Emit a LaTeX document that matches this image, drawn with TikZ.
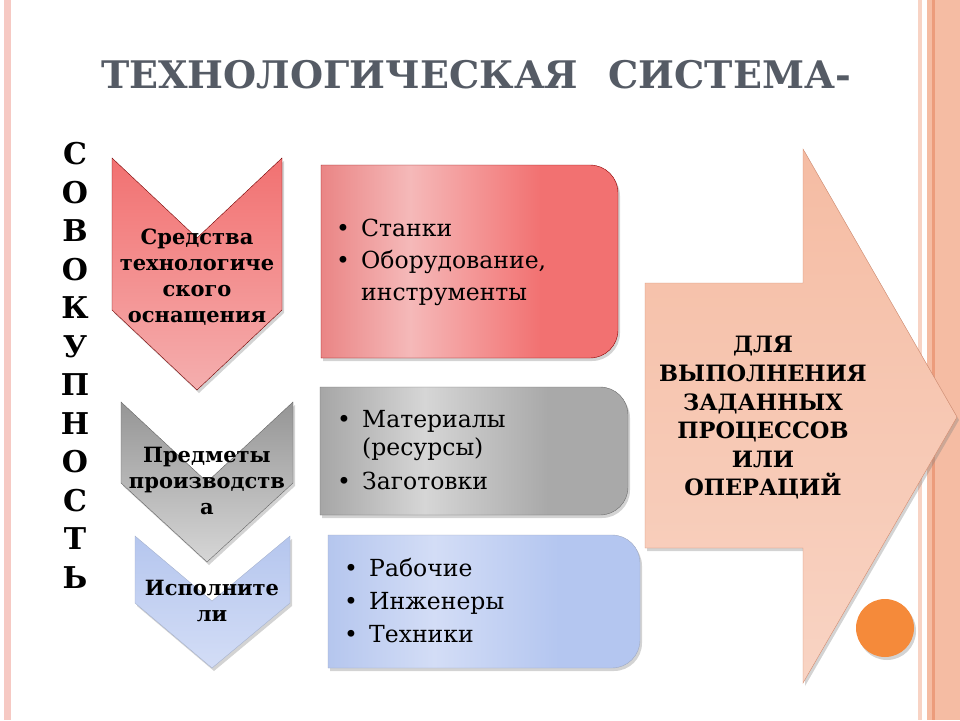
\documentclass[tikz,border=0pt]{standalone}
\usepackage{fontspec}
\setmainfont{DejaVu Serif}
\usepackage{tikz}
\usetikzlibrary{calc,shadows,matrix,positioning}

\definecolor{titlegray}{HTML}{555B65}
\definecolor{framepink}{HTML}{F6C9C3}
\definecolor{peachlt}{HTML}{F8D3C4}
\definecolor{peach}{HTML}{F5BCA3}
\definecolor{peachdk}{HTML}{EC9C7C}
\definecolor{redL}{HTML}{EA8585}
\definecolor{redM}{HTML}{F5B9B9}
\definecolor{redR}{HTML}{F27171}
\definecolor{grayL}{HTML}{A6A6A6}
\definecolor{grayM}{HTML}{D6D6D6}
\definecolor{grayR}{HTML}{A9A9A9}
\definecolor{blueL}{HTML}{B5C6EE}
\definecolor{blueM}{HTML}{D3DDF6}
\definecolor{blueR}{HTML}{B4C6F0}
\definecolor{dotorange}{HTML}{F58A3A}

\pgfdeclarehorizontalshading{redband}{100bp}{color(0bp)=(redL); color(25bp)=(redL);
  color(40bp)=(redM); color(62bp)=(redR); color(100bp)=(redR)}
\pgfdeclarehorizontalshading{grayband}{100bp}{color(0bp)=(grayL); color(25bp)=(grayL);
  color(42bp)=(grayM); color(62bp)=(grayR); color(100bp)=(grayR)}
\pgfdeclarehorizontalshading{blueband}{100bp}{color(0bp)=(blueL); color(25bp)=(blueL);
  color(42bp)=(blueM); color(62bp)=(blueR); color(100bp)=(blueR)}

\newcommand\itm{\makebox[25pt][l]{\textbullet}}
\newcommand\nobul{\makebox[25pt][l]{}}

\begin{document}
\begin{tikzpicture}[x=1pt,y=-1pt,
	shade/.style={drop shadow={shadow xshift=2pt,shadow yshift=-3pt,opacity=.35}},
	label/.style={font=\bfseries\fontsize{21}{26}\selectfont, align=center, inner sep=0pt},
	items/.style={font=\fontsize{23.5}{32}\selectfont, align=left, anchor=west, inner sep=0pt}]

\useasboundingbox (0,0) rectangle (960,720);

% frame
\fill[framepink] (4,0) rectangle (11,720);
\fill[peachlt] (918,0) rectangle (922,720);
\fill[peach] (927,0) rectangle (960,720);
\fill[peachdk] (932,0) rectangle (935,720);

\node[font=\bfseries\fontsize{38}{38}\selectfont, text=titlegray] (title) at (476,75)
	{ТЕХНОЛОГИЧЕСКАЯ\hspace{30pt}СИСТЕМА-};

\matrix(word) [matrix of nodes, row sep=15.5pt,
	nodes={font=\bfseries\fontsize{30}{30}\selectfont, inner sep=0pt,
	text height=23pt, text depth=0pt}] at (75,365)
	{
	С \\ О \\ В \\ О \\ К \\ У \\ П \\ Н \\ О \\ С \\ Т \\ Ь \\
	}; %end matrix

% chevrons
\draw[shade, draw=red!45!black, top color=redR, bottom color=redM!85!redR]
	(112,158) -- (197,238) -- (282,158) -- (282,310) -- (197,390) -- (112,310) -- cycle;
\draw[shade, draw=gray!80!black, top color=grayL!90!black, bottom color=grayM]
	(121,402) -- (207,482) -- (293,402) -- (293,483) -- (207,562) -- (121,483) -- cycle;
\draw[shade, draw=blueL!70!gray, top color=blueL, bottom color=blueM]
	(135,536) -- (212,601) -- (290,536) -- (290,603) -- (212,668) -- (135,603) -- cycle;

\node[label] (means) at (197,277) {Средства\\технологиче\\ского\\оснащения};
\node[label] (objects) at (207,481) {Предметы\\производств\\а};
\node[label] (staff) at (212,601) {Исполните\\ли};

% boxes
\draw[shade, draw=red!55!black, shading=redband]
	(321,165) -- (590,165) .. controls (605.5,165) and (618,177.5) .. (618,193)
	-- (618,330) .. controls (618,345.5) and (605.5,358) .. (590,358) -- (321,358) -- cycle;
\draw[shade, draw=gray!85!black, shading=grayband]
	(320,387) -- (600,387) .. controls (615.5,387) and (628,399.5) .. (628,415)
	-- (628,487) .. controls (628,502.5) and (615.5,515) .. (600,515) -- (320,515) -- cycle;
\draw[shade, draw=blueL!60!gray, shading=blueband]
	(328,535) -- (612,535) .. controls (627.5,535) and (640,547.5) .. (640,563)
	-- (640,640) .. controls (640,655.5) and (627.5,668) .. (612,668) -- (328,668) -- cycle;

\node[items] (tools) at (336,262) {\itm Станки\\\itm Оборудование,\\\nobul инструменты};
\node[items, font=\fontsize{23.5}{28}\selectfont] (stock) at (337,450)
	{\itm Материалы\\\nobul (ресурсы)\\[6pt]\itm Заготовки};
\node[items, font=\fontsize{23.5}{33}\selectfont] (people) at (344,601)
	{\itm Рабочие\\\itm Инженеры\\\itm Техники};

% arrow
\draw[shade, draw=peachdk!90!black, top color=peach, bottom color=peach!65!white]
	(645,283) -- (803,283) -- (803,149) -- (957,417) -- (803,683) -- (803,548) -- (645,548) -- cycle;
\node[label, font=\bfseries\fontsize{22.5}{28.6}\selectfont] (goal) at (763,418)
	{ДЛЯ\\ВЫПОЛНЕНИЯ\\ЗАДАННЫХ\\ПРОЦЕССОВ\\ИЛИ\\ОПЕРАЦИЙ};

\fill[dotorange, shade] (885,628) circle (29pt);

\end{tikzpicture}
\end{document}
